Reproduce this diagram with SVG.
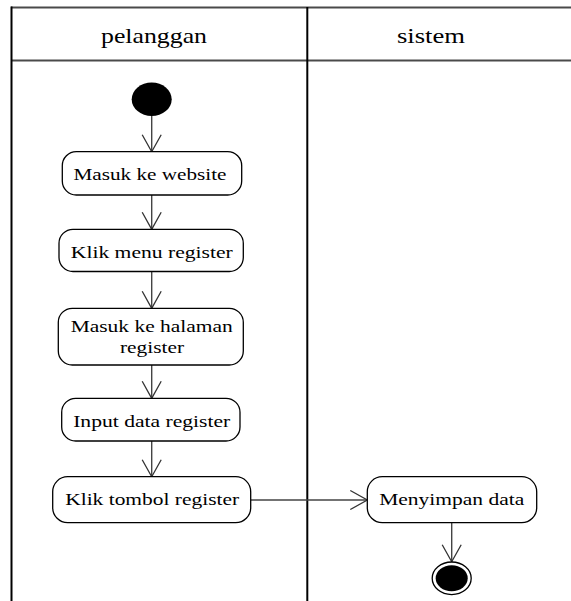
<svg xmlns="http://www.w3.org/2000/svg" width="571" height="601" viewBox="0 0 571 601">
  <style>
    .lane { stroke: #000; stroke-width: 2; fill: none; }
    .hdr { stroke: #4a4a4a; stroke-width: 2; fill: none; }
    .act { fill: #fff; stroke: #000; stroke-width: 1.3; }
    .flow { stroke: #444; stroke-width: 1.4; fill: none; marker-end: url(#open); }
    text { font-family: "Liberation Serif", "Times New Roman", serif; font-size: 17.5px; fill: #000; text-anchor: middle; }
    .title { font-size: 21px; }
  </style>
  <defs>
    <marker id="open" markerUnits="userSpaceOnUse" markerWidth="24" markerHeight="24" viewBox="-20 -12 24 24" refX="0" refY="0" orient="auto">
      <path d="M-17,-9.5 L0,0 L-17,9.5" fill="none" stroke="#333" stroke-width="1.3"/>
    </marker>
  </defs>
  <rect width="571" height="601" fill="#fff"/>

  <!-- swimlane frame -->
  <g id="lanes">
    <line class="hdr" x1="11" y1="7.5" x2="571" y2="7.5"/>
    <line class="hdr" x1="11" y1="60.5" x2="571" y2="60.5"/>
    <line class="lane" x1="11.5" y1="6.5" x2="11.5" y2="601"/>
    <line class="lane" x1="307.3" y1="7" x2="307.3" y2="601"/>
    <text class="title" x="154" y="43" textLength="106" lengthAdjust="spacingAndGlyphs">pelanggan</text>
    <text class="title" x="431" y="43" textLength="68" lengthAdjust="spacingAndGlyphs">sistem</text>
  </g>

  <!-- control flow -->
  <g id="connectors">
    <line class="flow" x1="151.7" y1="116" x2="151.7" y2="151.7"/>
    <line class="flow" x1="151.7" y1="195" x2="151.7" y2="229.3"/>
    <line class="flow" x1="151.7" y1="271.5" x2="151.7" y2="308.3"/>
    <line class="flow" x1="151.7" y1="365" x2="151.7" y2="398.3"/>
    <line class="flow" x1="151.7" y1="441" x2="151.7" y2="476.7"/>
    <line class="flow" x1="250.7" y1="500" x2="367.3" y2="500"/>
    <line class="flow" x1="451.7" y1="522.7" x2="451.7" y2="561.7"/>
  </g>

  <g id="start">
    <ellipse cx="151.7" cy="99.3" rx="20" ry="16.7" fill="#000"/>
  </g>

  <g id="masuk-website">
    <rect class="act" x="62.3" y="151.7" width="179.4" height="43.3" rx="14"/>
    <text x="150" y="180" textLength="153" lengthAdjust="spacingAndGlyphs">Masuk ke website</text>
  </g>

  <g id="klik-menu">
    <rect class="act" x="59" y="229.3" width="184.3" height="42.2" rx="14"/>
    <text x="151.8" y="258" textLength="162" lengthAdjust="spacingAndGlyphs">Klik menu register</text>
  </g>

  <g id="halaman-register">
    <rect class="act" x="58.3" y="308.3" width="185" height="56.7" rx="14"/>
    <text x="151.7" y="331.5" textLength="162" lengthAdjust="spacingAndGlyphs">Masuk ke halaman</text>
    <text x="152" y="353.3" textLength="64" lengthAdjust="spacingAndGlyphs">register</text>
  </g>

  <g id="input-data">
    <rect class="act" x="61.7" y="398.3" width="178.3" height="42.7" rx="14"/>
    <text x="151.7" y="427" textLength="157" lengthAdjust="spacingAndGlyphs">Input data register</text>
  </g>

  <g id="klik-tombol">
    <rect class="act" x="52.7" y="476.7" width="198" height="46" rx="15"/>
    <text x="152.2" y="505" textLength="174" lengthAdjust="spacingAndGlyphs">Klik tombol register</text>
  </g>

  <g id="menyimpan">
    <rect class="act" x="367.3" y="476.7" width="169.4" height="46" rx="15"/>
    <text x="451.7" y="505" textLength="145" lengthAdjust="spacingAndGlyphs">Menyimpan data</text>
  </g>

  <g id="end">
    <ellipse cx="451.7" cy="578.3" rx="19.5" ry="16.3" fill="#fff" stroke="#000" stroke-width="1.3"/>
    <ellipse cx="451.7" cy="578.3" rx="16" ry="13" fill="#000"/>
  </g>
</svg>
